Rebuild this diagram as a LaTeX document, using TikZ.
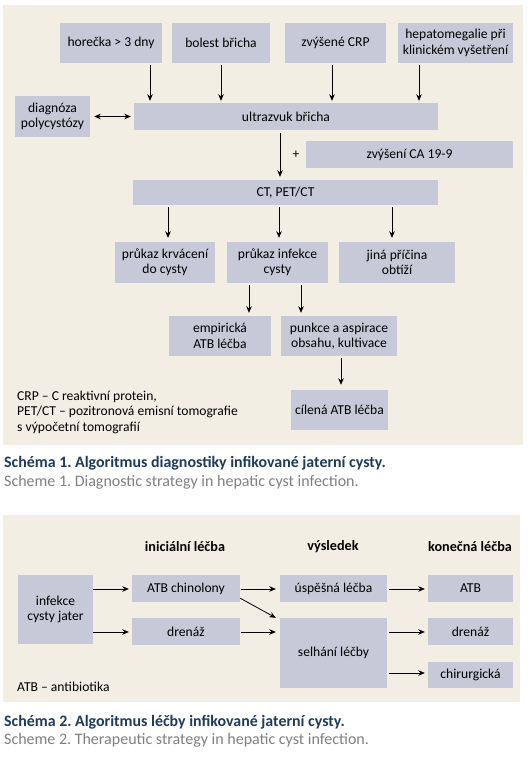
\documentclass[tikz,border=0pt]{standalone}
\usepackage{fontspec}
\setmainfont{Carlito}
\usetikzlibrary{arrows.meta,calc}
\definecolor{panelbg}{HTML}{F3EEE4}
\definecolor{boxfill}{HTML}{C8C9D8}
\definecolor{capblue}{HTML}{1E3A5C}
\definecolor{capgray}{HTML}{808080}
\frenchspacing
\begin{document}
\begin{tikzpicture}[x=1pt,y=-1pt,
  box/.style={fill=boxfill, inner sep=0pt, align=center, font=\fontsize{13.6}{15.5}\selectfont},
  arr/.style={-{Stealth[length=6.5pt,width=5.5pt]}, line width=0.8pt},
  darr/.style={{Stealth[length=6.5pt,width=5.5pt]}-{Stealth[length=6.5pt,width=5.5pt]}, line width=0.8pt},
  legend/.style={anchor=west, align=left, inner sep=0pt, font=\fontsize{13.6}{15.5}\selectfont},
  head/.style={inner sep=0pt, font=\bfseries\fontsize{14.2}{16}\selectfont},
  capA/.style={anchor=west, inner sep=0pt, text=capblue, font=\bfseries\fontsize{15.9}{18}\selectfont},
  capB/.style={anchor=west, inner sep=0pt, text=capgray, font=\fontsize{16}{18}\selectfont}]
\useasboundingbox (0,0) rectangle (527,757);
\fill[white] (0,0) rectangle (527,757);
\fill[panelbg] (3,5) rectangle (523,445);
\fill[panelbg] (3,515) rectangle (520,702);

% ---------- Scheme 1 ----------
\node[box, minimum width=102pt, minimum height=40pt] (hor) at (111,43) {horečka > 3 dny};
\node[box, minimum width=98pt, minimum height=40pt] (bol) at (221,43) {bolest břicha};
\node[box, minimum width=101pt, minimum height=40pt] (crp) at (335.5,43) {zvýšené CRP};
\node[box, minimum width=115pt, minimum height=40pt] (hep) at (455.5,43) {hepatomegalie při\\klinickém vyšetření};
\node[box, minimum width=75pt, minimum height=41pt] (diag) at (52.5,116.5) {diagnóza\\polycystózy};
\node[box, minimum width=304pt, minimum height=27pt] (usg) at (286,116.5) {ultrazvuk břicha};
\node[box, minimum width=207pt, minimum height=27pt] (ca) at (409.5,154.5) {zvýšení CA 19-9};
\node[box, minimum width=305pt, minimum height=25pt] (ct) at (285.5,192.5) {CT, PET/CT};
\node[box, minimum width=100pt, minimum height=41pt] (krv) at (165,262.5) {průkaz krvácení\\do cysty};
\node[box, minimum width=101pt, minimum height=41pt] (inf) at (277.5,262.5) {průkaz infekce\\cysty};
\node[box, minimum width=116pt, minimum height=41pt] (jina) at (397,262.5) {jiná příčina\\obtíží};
\node[box, minimum width=102pt, minimum height=40pt] (emp) at (220,336) {empirická\\ATB léčba};
\node[box, minimum width=116pt, minimum height=40pt] (pun) at (339,336) {punkce a aspirace\\obsahu, kultivace};
\node[box, minimum width=97pt, minimum height=40pt] (cil) at (339.5,410) {cílená ATB léčba};
\node[inner sep=0pt, font=\fontsize{13.6}{15}\selectfont] (plus) at (296,155) {+};
\node[legend] (leg1) at (17,412) {CRP – C reaktivní protein,\\PET/CT – pozitronová emisní tomografie\\s výpočetní tomografií};

\coordinate (x1) at (150,0);
\coordinate (x2) at (221,0);
\coordinate (x3) at (332,0);
\coordinate (x4) at (419,0);
\coordinate (x5) at (280,0);
\coordinate (x6) at (168,0);
\coordinate (x5b) at (279,0);
\coordinate (x7) at (392,0);
\coordinate (x8) at (249,0);
\coordinate (x9) at (301,0);
\coordinate (x10) at (341,0);

\draw[arr, shorten <=2pt, shorten >=2pt] (hor.south -| x1) -- (usg.north -| x1);
\draw[arr, shorten <=2pt, shorten >=2pt] (bol.south -| x2) -- (usg.north -| x2);
\draw[arr, shorten <=2pt, shorten >=2pt] (crp.south -| x3) -- (usg.north -| x3);
\draw[arr, shorten <=2pt, shorten >=2pt] (hep.south -| x4) -- (usg.north -| x4);
\draw[darr, shorten <=4pt, shorten >=3pt] (diag.east) -- (usg.west);
\draw[arr, shorten <=3pt, shorten >=3pt] (usg.south -| x5) -- (ct.north -| x5);
\draw[arr, shorten <=2pt, shorten >=4pt] (ct.south -| x6) -- (krv.north -| x6);
\draw[arr, shorten <=2pt, shorten >=4pt] (ct.south -| x5b) -- (inf.north -| x5b);
\draw[arr, shorten <=2pt, shorten >=4pt] (ct.south -| x7) -- (jina.north -| x7);
\draw[arr, shorten <=2pt, shorten >=3pt] (inf.south -| x8) -- (emp.north -| x8);
\draw[arr, shorten <=2pt, shorten >=3pt] (inf.south -| x9) -- (pun.north -| x9);
\draw[arr, shorten <=2pt, shorten >=5pt] (pun.south -| x10) -- (cil.north -| x10);

\node[capA] (capA1) at (4,463) {Schéma 1. Algoritmus diagnostiky infikované jaterní cysty.};
\node[capB] (capB1) at (4,482) {Scheme 1. Diagnostic strategy in hepatic cyst infection.};

% ---------- Scheme 2 ----------
\node[head] (h1) at (185,547) {iniciální léčba};
\node[head] (h2) at (333,547) {výsledek};
\node[head] (h3) at (470,547) {konečná léčba};
\node[box, minimum width=75pt, minimum height=69pt] (inf2) at (55.5,609.5) {infekce\\cysty jater};
\node[box, minimum width=108pt, minimum height=27pt] (atbch) at (186,588.5) {ATB chinolony};
\node[box, minimum width=108pt, minimum height=27pt] (dren1) at (186,631.5) {drenáž};
\node[box, minimum width=107pt, minimum height=27pt] (usp) at (333.5,588.5) {úspěšná léčba};
\node[box, minimum width=107pt, minimum height=70pt] (selh) at (333.5,653) {selhání léčby};
\node[box, minimum width=85pt, minimum height=27pt] (atb) at (470.5,588.5) {ATB};
\node[box, minimum width=85pt, minimum height=27pt] (dren2) at (470.5,631.5) {drenáž};
\node[box, minimum width=85pt, minimum height=26pt] (chir) at (470.5,675) {chirurgická};
\node[legend] (leg2) at (17,687) {ATB – antibiotika};

\coordinate (yA) at (0,589);
\coordinate (yB) at (0,632);
\coordinate (yC) at (0,673);
\draw[arr, shorten >=3pt] (inf2.east |- yA) -- (atbch.west |- yA);
\draw[arr, shorten >=3pt] (inf2.east |- yB) -- (dren1.west |- yB);
\draw[arr, shorten <=1pt, shorten >=4pt] (atbch.east |- yA) -- (usp.west |- yA);
\draw[arr, shorten <=1pt, shorten >=4pt] (dren1.east |- yB) -- (selh.west |- yB);
\draw[arr, shorten <=2pt, shorten >=3pt] (usp.east |- yA) -- (atb.west |- yA);
\draw[arr, shorten <=2pt, shorten >=3pt] (selh.east |- yB) -- (dren2.west |- yB);
\draw[arr, shorten <=2pt, shorten >=3pt] (selh.east |- yC) -- (chir.west |- yC);
\draw[arr] ([yshift=4pt]atbch.south east) -- ([xshift=-4pt]selh.north west);

\node[capA] (capA2) at (4,722) {Schéma 2. Algoritmus léčby infikované jaterní cysty.};
\node[capB] (capB2) at (4,740) {Scheme 2. Therapeutic strategy in hepatic cyst infection.};
\end{tikzpicture}
\end{document}
